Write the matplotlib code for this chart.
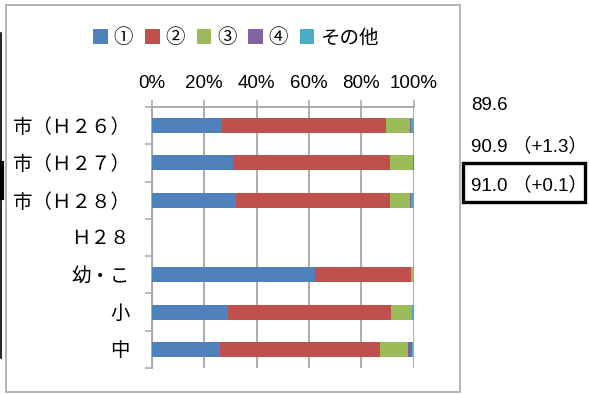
import numpy as np
import matplotlib
matplotlib.use("Agg")
from matplotlib import pyplot as plt
from matplotlib.lines import Line2D
from matplotlib.patches import Patch, Rectangle

plt.rcParams["font.family"] = ["Liberation Sans", "Noto Sans CJK JP"]

categories = ["市（Ｈ２６）", "市（Ｈ２７）", "市（Ｈ２８）", "Ｈ２８", "幼・こ", "小", "中"]
series_names = ["①", "②", "③", "④", "その他"]
s1 = [26.9, 31.1, 32.0, 0.0, 62.3, 28.9, 25.9]
s2 = [62.7, 59.8, 59.0, 0.0, 36.7, 62.5, 61.3]
s3 = [9.1, 8.9, 7.7, 0.0, 1.0, 7.9, 10.6]
s4 = [0.4, 0.2, 0.3, 0.0, 0.0, 0.0, 1.6]
s5 = [0.9, 0.0, 1.0, 0.0, 0.0, 0.7, 0.6]
x_ticks = [0, 20, 40, 60, 80, 100]
x_labels = ["0%", "20%", "40%", "60%", "80%", "100%"]
side_notes = ["89.6", "90.9 （+1.3）", "91.0 （+0.1）"]

COLORS = ["#4f81bd", "#c0504d", "#9bbb59", "#8064a2", "#4bacc6"]
GRID = "#a6a6a6"
W, H = 589, 394


def px(x, y):
    # pixel coords (top-left origin) -> figure fraction
    return x / W, 1 - y / H


fig = plt.figure(figsize=(W / 100, H / 100), dpi=100)

# outer chart frame
fig.add_artist(Rectangle(px(6, 392), (460 - 6) / W, (392 - 5) / H, transform=fig.transFigure,
                         fill=False, edgecolor="#a0a0a0", linewidth=1.1))
# stray black edge on the far left
fig.add_artist(Line2D([1 / W, 1 / W], [px(0, 33)[1], px(0, 358)[1]], transform=fig.transFigure,
                      color="black", linewidth=1.2))
fig.add_artist(Line2D([2 / W, 2 / W], [px(0, 163)[1], px(0, 198)[1]], transform=fig.transFigure,
                      color="black", linewidth=3))

left, bottom = px(152, 368)
ax = fig.add_axes([left, bottom, (413.5 - 152) / W, (368 - 107) / H])

y = np.arange(len(categories))
base = np.zeros(len(categories))
for vals, color, name in zip([s1, s2, s3, s4, s5], COLORS, series_names):
    vals = np.array(vals)
    ax.barh(y, vals, left=base, height=0.4, color=color, label=name, zorder=3)
    base += vals

ax.set_xlim(0, 100)
ax.set_ylim(len(categories) - 0.5, -0.5)
ax.xaxis.tick_top()
ax.set_xticks(x_ticks)
ax.set_xticklabels(x_labels, fontsize=13.5)
ax.tick_params(axis="x", length=5, width=1.1, color=GRID, pad=6)
ax.set_yticks(y)
ax.set_yticklabels(categories, fontsize=14)
ax.set_yticks(np.arange(-0.5, len(categories)), minor=True)
ax.tick_params(axis="y", which="major", length=0, pad=16)
ax.tick_params(axis="y", which="minor", length=5, width=1.1, color=GRID)
ax.grid(axis="x", color=GRID, linewidth=1.3, zorder=0)
for side in ["right", "bottom"]:
    ax.spines[side].set_visible(False)
for side in ["left", "top"]:
    ax.spines[side].set_color(GRID)
    ax.spines[side].set_linewidth(1.3)

handles = [Patch(facecolor=c, edgecolor="none") for c in COLORS]
fig.legend(handles, series_names, loc="center", bbox_to_anchor=px(236, 38), ncol=5,
           frameon=False, fontsize=14, handlelength=0.75, handleheight=0.75,
           handletextpad=0.3, columnspacing=0.6, borderaxespad=0)

for note, yy in zip(side_notes, [105, 146.7, 185]):
    fig.text(*px(471.5, yy), note, fontsize=13.5, va="center", ha="left")
fig.add_artist(Rectangle(px(463, 202), (585 - 463) / W, (202 - 163) / H, transform=fig.transFigure,
                         fill=False, edgecolor="black", linewidth=2.4))

fig.savefig("out.png", dpi=100, facecolor="white")
